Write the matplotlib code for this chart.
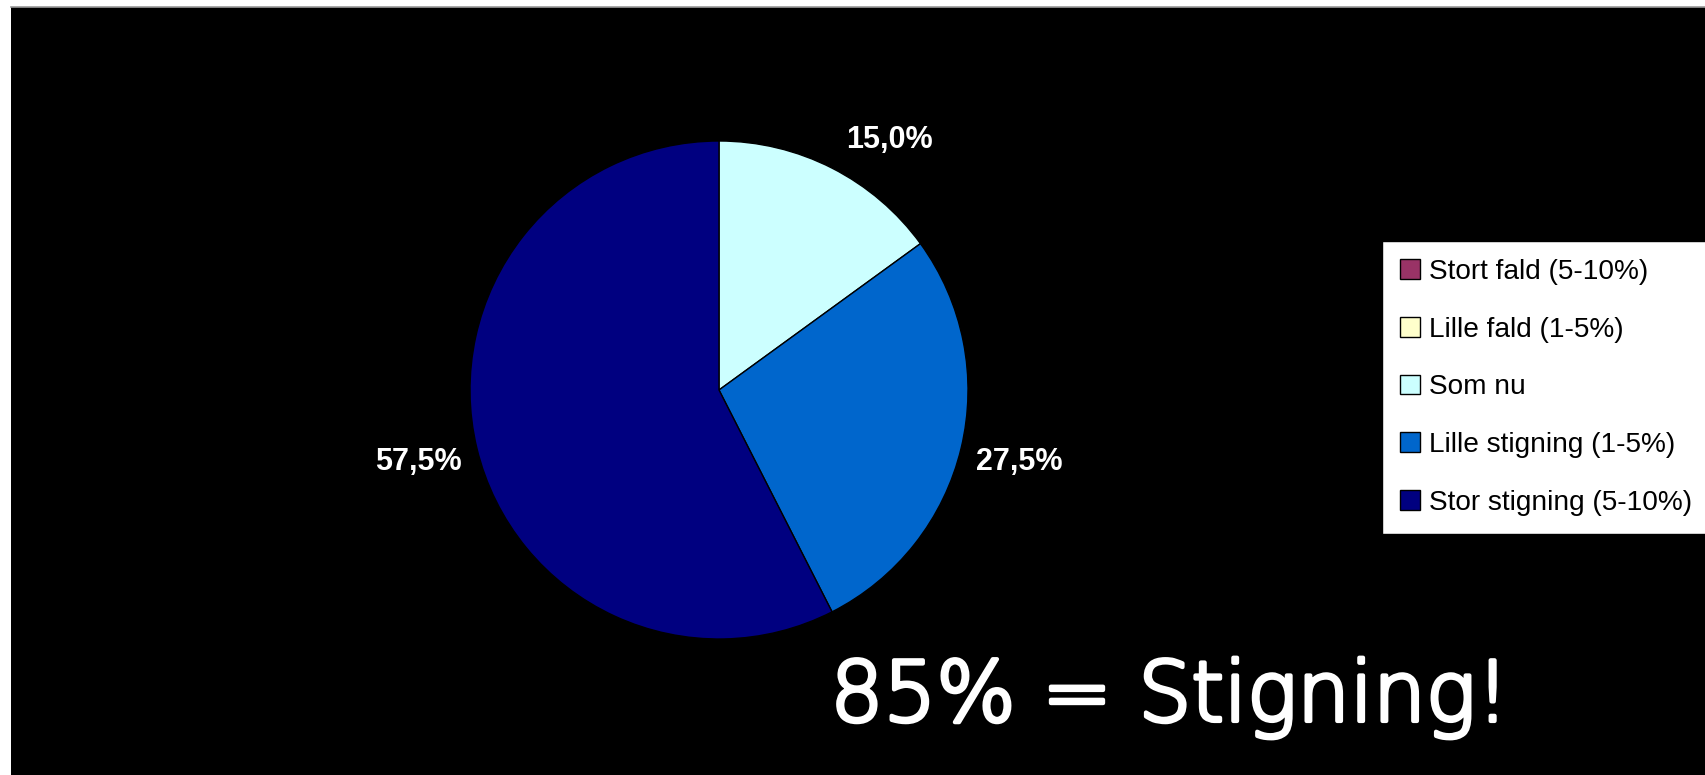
import matplotlib
matplotlib.use("Agg")
import numpy as np
import matplotlib.pyplot as plt
import matplotlib.patheffects as pe
from matplotlib.patches import Rectangle
from matplotlib.lines import Line2D

# Survey answers: expected change
categories = ["Stort fald (5-10%)", "Lille fald (1-5%)", "Som nu",
              "Lille stigning (1-5%)", "Stor stigning (5-10%)"]
shares = [0.0, 0.0, 15.0, 27.5, 57.5]
colors = ["#993366", "#FFFFCC", "#CCFFFF", "#0066CC", "#000080"]
note_text = "85% = Stigning!"

W, H = 1706, 775
fig = plt.figure(figsize=(W / 100, H / 100), dpi=100, facecolor="white")

# black slide background with a thin grey rule on top
bg = fig.add_axes([11 / W, 0, 1 - 11 / W, 1 - 7 / H])
bg.set_facecolor("black")
bg.set_xticks([]); bg.set_yticks([])
for s in bg.spines.values():
    s.set_visible(False)
fig.add_artist(Line2D([11 / W, 1], [1 - 6.5 / H, 1 - 6.5 / H],
                      transform=fig.transFigure, color="#9a9a9a", lw=1.2))

# pie
cx, cy, r = 719, 390, 249
ax = fig.add_axes([(cx - r) / W, (H - cy - r) / H, 2 * r / W, 2 * r / H])
ax.set_facecolor("none")
wedges, _ = ax.pie(shares, colors=colors, startangle=90, counterclock=False,
                   radius=1.0, wedgeprops=dict(edgecolor="black", linewidth=1.0))
ax.set_xlim(-1, 1); ax.set_ylim(-1, 1)
ax.set_aspect("equal")
ax.axis("off")

nudge = {2: (30, 25)}  # pixel offsets for crowded labels
for i, (w, v) in enumerate(zip(wedges, shares)):
    if v <= 0:
        continue
    mid = np.deg2rad((w.theta1 + w.theta2) / 2)
    x, y = 1.24 * np.cos(mid), 1.24 * np.sin(mid)
    dx, dy = nudge.get(i, (0, 0))
    ax.annotate(f"{v:.1f}%".replace(".", ","), (x, y), xytext=(dx * 0.72, -dy * 0.72),
                textcoords="offset points", ha="center", va="center",
                color="white", fontsize=22, fontweight="bold",
                family="Liberation Sans", annotation_clip=False)

# legend
handles = [Rectangle((0, 0), 1, 1, facecolor=c, edgecolor="black", linewidth=1.0)
           for c in colors]
leg = fig.legend(handles, categories, loc="upper left",
                 bbox_to_anchor=(1382 / W, 1 - 241 / H),
                 prop=dict(family="Liberation Sans", size=20.2),
                 frameon=True, fancybox=False, edgecolor="black",
                 facecolor="white", framealpha=1.0,
                 handlelength=0.7, handleheight=0.7, handletextpad=0.33,
                 labelspacing=1.13, borderpad=0.64, borderaxespad=0)
for t in leg.get_texts():
    t.set_color("black")

# hand-written style note
fig.text(1170 / W, 1 - 721 / H, note_text, ha="center", va="baseline",
         color="white", fontsize=60, family="DejaVu Sans", fontweight="light",
         path_effects=[pe.Stroke(linewidth=3, foreground="white",
                                 joinstyle="round", capstyle="round"),
                       pe.Normal()])

fig.savefig("out.png", dpi=100, facecolor=fig.get_facecolor())
